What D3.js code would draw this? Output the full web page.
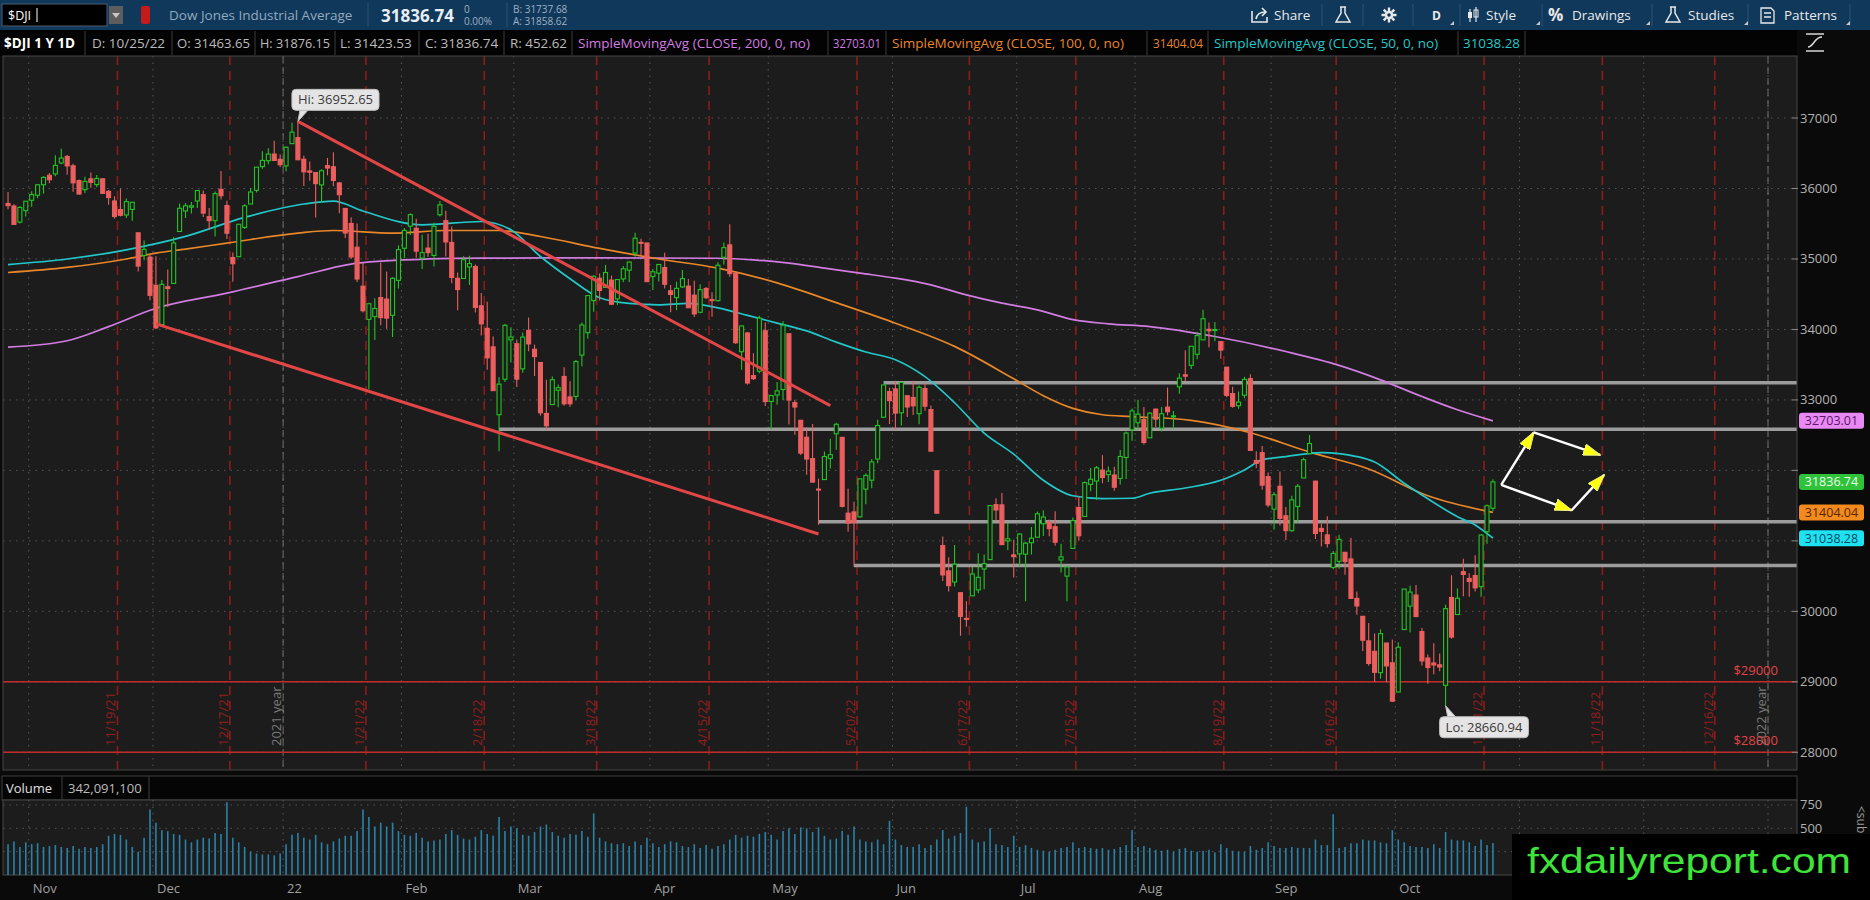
<!DOCTYPE html>
<html>
<head>
<meta charset="utf-8">
<script src="https://cdn.jsdelivr.net/npm/d3@7"></script>
<style>
  body { margin: 0; background: #0a0a0a; overflow: hidden; }
  svg { display: block; }
</style>
</head>
<body>
<svg id="chart" width="1870" height="900"></svg>
<script>
// ---- data -------------------------------------------------------------
const holidays = ['2021-11-25', '2021-12-24', '2022-01-17', '2022-02-21', '2022-04-15', '2022-05-30',
  '2022-06-20', '2022-07-04', '2022-09-05', '2022-11-24', '2022-12-26', '2023-01-02'];

// date, open, high, low, close
const ohlc = [
  ['2021-10-26', 35788, 35951, 35707, 35756.88], ['2021-10-27', 35752, 35775, 35490, 35490.69],
  ['2021-10-28', 35523, 35749, 35502, 35730.48], ['2021-10-29', 35686, 35820, 35603, 35819.56],
  ['2021-11-01', 35833, 35960, 35740, 35913.84], ['2021-11-02', 35904, 36060, 35860, 36052.63],
  ['2021-11-03', 36053, 36174, 35926, 36157.58], ['2021-11-04', 36187, 36219, 36074, 36124.23],
  ['2021-11-05', 36207, 36470, 36174, 36327.95], ['2021-11-08', 36362, 36565, 36343, 36432.22],
  ['2021-11-09', 36455, 36474, 36194, 36319.98], ['2021-11-10', 36322, 36351, 35955, 36079.94],
  ['2021-11-11', 36112, 36126, 35915, 35921.23], ['2021-11-12', 35983, 36166, 35936, 36100.31],
  ['2021-11-15', 36137, 36226, 36012, 36087.45], ['2021-11-16', 36055, 36190, 36016, 36142.22],
  ['2021-11-17', 36138, 36141, 35927, 35931.05], ['2021-11-18', 35959, 35979, 35768, 35870.95],
  ['2021-11-19', 35823, 35890, 35573, 35601.98], ['2021-11-22', 35701, 36000, 35604, 35619.25],
  ['2021-11-23', 35624, 35859, 35582, 35813.80], ['2021-11-24', 35703, 35811, 35541, 35804.38],
  ['2021-11-26', 35371, 35371, 34822, 34899.34], ['2021-11-29', 35050, 35262, 34982, 35135.94],
  ['2021-11-30', 35027, 35073, 34413, 34483.72], ['2021-12-01', 34626, 35040, 34006, 34022.04],
  ['2021-12-02', 34070, 34702, 34062, 34639.79], ['2021-12-03', 34606, 34849, 34317, 34580.08],
  ['2021-12-06', 34653, 35309, 34653, 35227.03], ['2021-12-07', 35390, 35788, 35390, 35719.43],
  ['2021-12-08', 35681, 35793, 35581, 35754.09], ['2021-12-09', 35735, 35810, 35645, 35754.69],
  ['2021-12-10', 35823, 35975, 35725, 35970.99], ['2021-12-13', 35912, 35970, 35595, 35650.95],
  ['2021-12-14', 35601, 35725, 35416, 35544.18], ['2021-12-15', 35544, 35957, 35319, 35927.43],
  ['2021-12-16', 35988, 36248, 35843, 35897.64], ['2021-12-17', 35759, 35827, 35282, 35365.44],
  ['2021-12-20', 35020, 35093, 34678, 34932.16], ['2021-12-21', 35032, 35495, 35032, 35492.70],
  ['2021-12-22', 35448, 35776, 35426, 35753.89], ['2021-12-23', 35780, 36007, 35780, 35950.56],
  ['2021-12-27', 35975, 36303, 35943, 36302.38], ['2021-12-28', 36311, 36528, 36280, 36398.21],
  ['2021-12-29', 36394, 36571, 36343, 36488.63], ['2021-12-30', 36489, 36679, 36391, 36398.08],
  ['2021-12-31', 36414, 36483, 36306, 36338.30],
  ['2022-01-03', 36321, 36595, 36246, 36585.06], ['2022-01-04', 36636, 36934, 36636, 36799.65],
  ['2022-01-05', 36722, 36952.65, 36407, 36407.11], ['2022-01-06', 36415, 36464, 36037, 36236.47],
  ['2022-01-07', 36249, 36382, 36111, 36231.66], ['2022-01-10', 36227, 36227, 35588, 36068.87],
  ['2022-01-11', 36051, 36272, 35806, 36252.02], ['2022-01-12', 36324, 36434, 36187, 36290.32],
  ['2022-01-13', 36308, 36513, 36033, 36113.62], ['2022-01-14', 36079, 36093, 35650, 35911.81],
  ['2022-01-18', 35717, 35717, 35299, 35368.47], ['2022-01-19', 35504, 35592, 35001, 35028.65],
  ['2022-01-20', 35167, 35503, 34674, 34715.39], ['2022-01-21', 34614, 34942, 34240, 34265.37],
  ['2022-01-24', 34143, 34380, 33150, 34364.50], ['2022-01-25', 34181, 34444, 33851, 34297.73],
  ['2022-01-26', 34452, 34950, 34059, 34168.09], ['2022-01-27', 34431, 34823, 34010, 34160.78],
  ['2022-01-28', 34201, 34741, 33892, 34725.47], ['2022-01-31', 34697, 35193, 34581, 35131.86],
  ['2022-02-01', 35152, 35439, 35012, 35405.24], ['2022-02-02', 35465, 35647, 35339, 35629.33],
  ['2022-02-03', 35436, 35570, 35016, 35111.16], ['2022-02-04', 35013, 35342, 34859, 35089.74],
  ['2022-02-07', 35155, 35358, 35030, 35091.13], ['2022-02-08', 35050, 35515, 34893, 35462.78],
  ['2022-02-09', 35627, 35824, 35604, 35768.06], ['2022-02-10', 35543, 35683, 35034, 35241.59],
  ['2022-02-11', 35235, 35461, 34654, 34738.06], ['2022-02-14', 34726, 34807, 34273, 34566.17],
  ['2022-02-15', 34724, 35039, 34724, 34988.84], ['2022-02-16', 34887, 35045, 34630, 34934.27],
  ['2022-02-17', 34892, 34921, 34242, 34312.03], ['2022-02-18', 34336, 34517, 33915, 34079.18],
  ['2022-02-22', 34016, 34394, 33427, 33596.61], ['2022-02-23', 33753, 33899, 33128, 33131.76],
  ['2022-02-24', 32790, 33321, 32272.64, 33223.83], ['2022-02-25', 33293, 34076, 33255, 34058.75],
  ['2022-02-28', 33852, 34031, 33531, 33892.60],
  ['2022-03-01', 33797, 33857, 33183, 33294.95], ['2022-03-02', 33441, 33958, 33386, 33891.35],
  ['2022-03-03', 33987, 34171, 33689, 33794.66], ['2022-03-04', 33719, 33784, 33339, 33614.80],
  ['2022-03-07', 33531, 33531, 32777, 32817.38], ['2022-03-08', 32808, 33287, 32578, 32632.64],
  ['2022-03-09', 32934, 33333, 32934, 33286.25], ['2022-03-10', 33137, 33218, 32896, 33174.07],
  ['2022-03-11', 33333, 33463, 32918, 32944.19], ['2022-03-14', 33043, 33264, 32902, 32945.24],
  ['2022-03-15', 33050, 33567, 32995, 33544.34], ['2022-03-16', 33636, 34099, 33478, 34063.10],
  ['2022-03-17', 33954, 34480, 33869, 34480.76], ['2022-03-18', 34410, 34768, 34250, 34754.93],
  ['2022-03-21', 34727, 34793, 34409, 34552.99], ['2022-03-22', 34596, 34916, 34596, 34807.46],
  ['2022-03-23', 34700, 34764, 34344, 34358.50], ['2022-03-24', 34434, 34713, 34346, 34707.94],
  ['2022-03-25', 34717, 34899, 34669, 34861.24], ['2022-03-28', 34841, 34964, 34674, 34955.89],
  ['2022-03-29', 35084, 35372, 35033, 35294.19], ['2022-03-30', 35236, 35286, 35056, 35228.81],
  ['2022-03-31', 35227, 35227, 34678, 34678.35],
  ['2022-04-01', 34751, 34858, 34559, 34818.27], ['2022-04-04', 34799, 34925, 34681, 34921.88],
  ['2022-04-05', 34879, 35089, 34580, 34641.18], ['2022-04-06', 34549, 34630, 34245, 34496.51],
  ['2022-04-07', 34452, 34678, 34273, 34583.57], ['2022-04-08', 34604, 34844, 34589, 34721.12],
  ['2022-04-11', 34615, 34715, 34306, 34308.08], ['2022-04-12', 34487, 34692, 34175, 34220.36],
  ['2022-04-13', 34244, 34640, 34230, 34564.59], ['2022-04-14', 34581, 34603, 34433, 34451.23],
  ['2022-04-18', 34423, 34528, 34179, 34411.69], ['2022-04-19', 34409, 34952, 34397, 34911.20],
  ['2022-04-20', 35025, 35232, 34920, 35160.79], ['2022-04-21', 35200, 35492, 34747, 34792.76],
  ['2022-04-22', 34797, 34797, 33793, 33811.40], ['2022-04-25', 33684, 34054, 33427, 34049.46],
  ['2022-04-26', 33950, 33965, 33217, 33240.18], ['2022-04-27', 33345, 33664, 33282, 33301.93],
  ['2022-04-28', 33408, 34194, 33378, 34160.78], ['2022-04-29', 33981, 34098, 32914, 32977.21],
  ['2022-05-02', 32978, 33075, 32584, 33061.50], ['2022-05-03', 33069, 33256, 32930, 33128.79],
  ['2022-05-04', 33148, 34117, 32998, 34061.06], ['2022-05-05', 33939, 33940, 32652, 32997.97],
  ['2022-05-06', 32963, 33002, 32505, 32899.37], ['2022-05-09', 32711, 32711, 32220, 32245.70],
  ['2022-05-10', 32470, 32612, 31937, 32160.74], ['2022-05-11', 32167, 32660, 31825, 31834.11],
  ['2022-05-12', 31735, 31882, 31228, 31730.30], ['2022-05-13', 31870, 32269, 31870, 32196.66],
  ['2022-05-16', 32170, 32448, 32027, 32223.42], ['2022-05-17', 32519, 32675, 32294, 32654.59],
  ['2022-05-18', 32469, 32474, 31474, 31490.07], ['2022-05-19', 31393, 31739, 31128, 31253.13],
  ['2022-05-20', 31411, 31554, 30635.76, 31261.90], ['2022-05-23', 31341, 31881, 31331, 31880.24],
  ['2022-05-24', 31734, 31955, 31519, 31928.62], ['2022-05-25', 31861, 32161, 31746, 32120.28],
  ['2022-05-26', 32161, 32717, 32102, 32637.19], ['2022-05-27', 32754, 33213, 32754, 33212.96],
  ['2022-05-31', 33118, 33175, 32656, 32990.12],
  ['2022-06-01', 33156, 33272, 32581, 32813.23], ['2022-06-02', 32817, 33249, 32637, 33248.28],
  ['2022-06-03', 33060, 33060, 32757, 32899.70], ['2022-06-06', 33035, 33271, 32786, 32915.78],
  ['2022-06-07', 32804, 33203, 32654, 33180.14], ['2022-06-08', 33162, 33234, 32845, 32910.90],
  ['2022-06-09', 32863, 32920, 32272, 32272.79], ['2022-06-10', 31995, 32000, 31389, 31392.79],
  ['2022-06-13', 30934, 31061, 30432, 30516.74], ['2022-06-14', 30574, 30769, 30280, 30364.83],
  ['2022-06-15', 30416, 30940, 30351, 30668.53], ['2022-06-16', 30265, 30265, 29653, 29927.07],
  ['2022-06-17', 29900, 30145, 29780, 29888.78], ['2022-06-21', 30220, 30628, 30220, 30530.25],
  ['2022-06-22', 30304, 30823, 30258, 30483.13], ['2022-06-23', 30601, 30807, 30312, 30677.36],
  ['2022-06-24', 30734, 31500, 30734, 31500.68], ['2022-06-27', 31514, 31605, 31286, 31438.26],
  ['2022-06-28', 31511, 31679, 30941, 30946.99], ['2022-06-29', 30999, 31253, 30872, 31029.31],
  ['2022-06-30', 30801, 31016, 30480, 30775.43],
  ['2022-07-01', 30815, 31104, 30632, 31097.26], ['2022-07-05', 30812, 30983, 30143, 30967.82],
  ['2022-07-06', 30974, 31197, 30807, 31037.68], ['2022-07-07', 31052, 31418, 31052, 31384.55],
  ['2022-07-08', 31243, 31433, 31070, 31338.15], ['2022-07-11', 31268, 31305, 31067, 31173.84],
  ['2022-07-12', 31201, 31419, 30932, 30981.33], ['2022-07-13', 30729, 30961, 30550, 30772.79],
  ['2022-07-14', 30500, 30630, 30143, 30630.17], ['2022-07-15', 30893, 31331, 30893, 31288.26],
  ['2022-07-18', 31473, 31631, 31003, 31072.61], ['2022-07-19', 31346, 31844, 31346, 31827.05],
  ['2022-07-20', 31801, 32033, 31705, 31874.84], ['2022-07-21', 31849, 32063, 31582, 32036.90],
  ['2022-07-22', 32004, 32216, 31817, 31899.29], ['2022-07-25', 31939, 32055, 31836, 31990.04],
  ['2022-07-26', 31935, 32052, 31712, 31761.54], ['2022-07-27', 31886, 32290, 31799, 32197.59],
  ['2022-07-28', 32183, 32552, 31878, 32529.63], ['2022-07-29', 32576, 32877, 32420, 32845.13],
  ['2022-08-01', 32677, 33003, 32581, 32798.40], ['2022-08-02', 32722, 32900, 32369, 32396.17],
  ['2022-08-03', 32462, 32825, 32462, 32812.50], ['2022-08-04', 32870, 32875, 32617, 32726.82],
  ['2022-08-05', 32599, 32900, 32552, 32803.47], ['2022-08-08', 32898, 33176, 32780, 32832.54],
  ['2022-08-09', 32760, 32843, 32585, 32774.41], ['2022-08-10', 33186, 33378, 33089, 33309.51],
  ['2022-08-11', 33356, 33705, 33270, 33336.67], ['2022-08-12', 33491, 33764, 33440, 33761.05],
  ['2022-08-15', 33647, 33965, 33577, 33912.44], ['2022-08-16', 33852, 34281, 33852, 34152.01],
  ['2022-08-17', 34002, 34099, 33749, 33980.32], ['2022-08-18', 33998, 34106, 33834, 33999.04],
  ['2022-08-19', 33827, 33827, 33584, 33706.74], ['2022-08-22', 33465, 33465, 33037, 33063.61],
  ['2022-08-23', 33090, 33188, 32888, 32909.59], ['2022-08-24', 32918, 33119, 32875, 32969.23],
  ['2022-08-25', 33067, 33327, 33024, 33291.78], ['2022-08-26', 33302, 33365, 32278, 32283.40],
  ['2022-08-29', 32141, 32270, 32033, 32098.99], ['2022-08-30', 32252, 32345, 31724, 31790.87],
  ['2022-08-31', 31912, 31970, 31477, 31510.43],
  ['2022-09-01', 31450, 31694, 31161, 31656.42], ['2022-09-02', 31775, 31985, 31219, 31318.44],
  ['2022-09-06', 31356, 31482, 31014, 31145.30], ['2022-09-07', 31144, 31640, 31131, 31581.28],
  ['2022-09-08', 31488, 31807, 31258, 31774.52], ['2022-09-09', 31893, 32181, 31893, 32151.71],
  ['2022-09-12', 32238, 32504, 32238, 32381.34], ['2022-09-13', 31848, 31848, 31028, 31104.97],
  ['2022-09-14', 31177, 31243, 30920, 31135.09], ['2022-09-15', 31085, 31348, 30906, 30961.82],
  ['2022-09-16', 30623, 30855, 30597, 30822.42], ['2022-09-19', 30710, 31086, 30604, 31019.68],
  ['2022-09-20', 30838, 30838, 30518, 30706.23], ['2022-09-21', 30744, 31043, 30181, 30183.78],
  ['2022-09-22', 30184, 30283, 29951, 30076.68], ['2022-09-23', 29930, 29930, 29439, 29590.41],
  ['2022-09-26', 29581, 29836, 29227, 29260.81], ['2022-09-27', 29433, 29685, 28998, 29134.99],
  ['2022-09-28', 29130, 29745, 29044, 29683.74], ['2022-09-29', 29551, 29551, 28993, 29225.61],
  ['2022-09-30', 29270, 29599, 28715, 28725.51],
  ['2022-10-03', 28855, 29563, 28855, 29490.89], ['2022-10-04', 29742, 30317, 29742, 30316.32],
  ['2022-10-05', 30074, 30363, 29700, 30273.87], ['2022-10-06', 30231, 30375, 29915, 29926.94],
  ['2022-10-07', 29713, 29765, 29230, 29296.79], ['2022-10-10', 29338, 29389, 28973, 29202.88],
  ['2022-10-11', 29267, 29546, 29108, 29239.19], ['2022-10-12', 29241, 29403, 29151, 29210.85],
  ['2022-10-13', 28950, 30095, 28660.94, 30038.72], ['2022-10-14', 30197, 30512, 29613, 29634.83],
  ['2022-10-17', 29955, 30326, 29955, 30185.82], ['2022-10-18', 30563, 30747, 30213, 30523.80],
  ['2022-10-19', 30467, 30541, 30206, 30423.81], ['2022-10-20', 30509, 30795, 30282, 30333.59],
  ['2022-10-21', 30350, 31089, 30206, 31082.56], ['2022-10-24', 31131, 31517, 30961, 31499.62],
  ['2022-10-25', 31463.65, 31876.15, 31423.53, 31836.74]
];

// daily volume, millions (same order as ohlc)
const volumeM = [
  330, 360, 300, 350,
  330, 340, 300, 310, 320, 300, 290, 310, 280, 300, 290, 300, 330, 420, 440, 430, 380, 300, 250, 400, 700,
  560, 480, 470, 440, 430, 380, 350, 380, 400, 390, 450, 440, 780, 400, 350, 300, 250, 230, 220, 220, 210, 230,
  330, 430, 450, 400, 380, 430, 350, 330, 360, 390, 420, 420, 470, 700, 620, 520, 560, 520, 560, 470,
  430, 420, 450, 400, 360, 370, 380, 440, 480, 430, 390, 380, 410, 480, 440, 420, 620, 470, 520,
  500, 430, 420, 460, 520, 540, 460, 420, 400, 440, 430, 470, 410, 660, 400, 360, 340, 330, 340, 310, 360, 320, 400,
  340, 300, 330, 360, 350, 310, 300, 330, 290, 320, 280, 310, 330, 380, 430, 400, 420, 410, 440, 460,
  430, 380, 470, 500, 440, 510, 500, 460, 510, 420, 380, 390, 470, 430, 520, 380, 360, 350, 380, 330, 580,
  380, 320, 300, 300, 330, 290, 320, 380, 480, 390, 420, 450, 730, 380, 350, 360, 500, 330, 320, 300, 420,
  300, 320, 290, 270, 260, 250, 270, 290, 300, 350, 290, 300, 290, 280, 290, 270, 280, 300, 320, 480,
  300, 310, 290, 270, 260, 270, 250, 280, 290, 260, 250, 260, 270, 240, 330, 290, 260, 250, 250, 310, 270, 290, 350,
  310, 290, 290, 300, 290, 290, 290, 380, 320, 320, 650, 290, 300, 340, 340, 380, 370, 370, 350, 340, 480,
  380, 350, 310, 300, 300, 290, 330, 290, 460, 380, 370, 370, 350, 310, 380, 320, 342.0911
];

// moving averages
const sma200 = [
  ['2021-10-26', 33749], ['2021-11-09', 33840], ['2021-11-18', 34040], ['2021-12-01', 34300],
  ['2021-12-17', 34515], ['2022-01-05', 34750], ['2022-01-20', 34940], ['2022-02-07', 35000],
  ['2022-02-18', 35012], ['2022-03-21', 35015], ['2022-04-19', 35010], ['2022-04-27', 34988],
  ['2022-05-05', 34941], ['2022-05-13', 34870], ['2022-05-23', 34799], ['2022-06-01', 34728],
  ['2022-06-09', 34633], ['2022-06-17', 34491], ['2022-06-28', 34373], ['2022-07-07', 34278],
  ['2022-07-15', 34140], ['2022-07-25', 34080], ['2022-08-03', 34041], ['2022-08-18', 33900],
  ['2022-09-06', 33687], ['2022-09-19', 33490], ['2022-09-28', 33285], ['2022-10-07', 33048],
  ['2022-10-17', 32860], ['2022-10-25', 32703.01]
];
const sma100 = [
  ['2021-10-26', 34808], ['2021-11-09', 34880], ['2021-11-23', 35000], ['2021-12-01', 35083],
  ['2021-12-08', 35140], ['2021-12-17', 35225], ['2022-01-05', 35367], ['2022-01-13', 35404],
  ['2022-01-28', 35367], ['2022-02-10', 35404], ['2022-02-24', 35404], ['2022-03-07', 35319],
  ['2022-03-21', 35150], ['2022-04-04', 35000], ['2022-04-19', 34870], ['2022-05-03', 34660],
  ['2022-05-17', 34380], ['2022-06-01', 34089], ['2022-06-15', 33760], ['2022-06-30', 33300],
  ['2022-07-08', 33060], ['2022-07-15', 32880], ['2022-07-22', 32790], ['2022-07-29', 32764],
  ['2022-08-12', 32710], ['2022-08-26', 32535], ['2022-09-12', 32260], ['2022-09-26', 32020],
  ['2022-10-10', 31640], ['2022-10-25', 31404.04]
];
const sma50 = [
  ['2021-10-26', 34920], ['2021-11-09', 35000], ['2021-11-23', 35130], ['2021-12-08', 35320],
  ['2021-12-22', 35590], ['2022-01-06', 35780], ['2022-01-13', 35820], ['2022-01-21', 35680],
  ['2022-02-04', 35485], ['2022-02-18', 35532], ['2022-02-28', 35414], ['2022-03-07', 35035],
  ['2022-03-14', 34720], ['2022-03-21', 34450], ['2022-03-28', 34370], ['2022-04-04', 34350],
  ['2022-04-11', 34370], ['2022-04-19', 34306], ['2022-04-26', 34200], ['2022-05-03', 34090],
  ['2022-05-10', 33980], ['2022-05-17', 33820], ['2022-05-24', 33680], ['2022-06-01', 33570],
  ['2022-06-08', 33330], ['2022-06-15', 32960], ['2022-06-23', 32530], ['2022-06-30', 32230],
  ['2022-07-08', 31860], ['2022-07-15', 31640], ['2022-07-22', 31600], ['2022-07-29', 31605],
  ['2022-08-03', 31676], ['2022-08-11', 31750], ['2022-08-19', 31860], ['2022-08-25', 32007],
  ['2022-08-30', 32149], ['2022-09-06', 32196], ['2022-09-14', 32253], ['2022-09-22', 32196],
  ['2022-09-27', 32120], ['2022-10-04', 31818], ['2022-10-07', 31652], ['2022-10-17', 31344],
  ['2022-10-20', 31226], ['2022-10-25', 31038.28]
];

// drawn annotations (date, price)
const supportLines = [['2022-05-27', 33245], ['2022-02-24', 32585], ['2022-05-12', 31270], ['2022-05-20', 30650]];
const trendLines = [
  [['2022-01-05', 36952.65], ['2022-05-16', 32920]],
  [['2021-12-01', 34080], ['2022-05-12', 31098]]
];
const alertLevels = [29000, 28000];
// projected path, in bars after the last candle
const projection = [
  [[1.4, 31794], [6.9, 32539]], [[6.9, 32539], [18.1, 32219]],
  [[1.4, 31794], [13.3, 31434]], [[13.3, 31434], [18.8, 31936]]
];
const expiries = ['2021-11-19', '2021-12-17', '2022-01-21', '2022-02-18', '2022-03-18', '2022-04-15',
  '2022-05-20', '2022-06-17', '2022-07-15', '2022-08-19', '2022-09-16', '2022-10-21', '2022-11-18', '2022-12-16'];
const yearStarts = [['2022-01-03', '2021 year'], ['2023-01-03', '2022 year']];
const priceTicks = [28000, 29000, 30000, 31000, 32000, 33000, 34000, 35000, 36000, 37000];
const volumeTicks = [250, 500, 750];

// ---- layout ----------------------------------------------------------
const FONT = "'Open Sans', 'Noto Sans', sans-serif";
const plot = { left: 3, right: 1797, top: 56, bottom: 770 };
const vol = { top: 800, bottom: 875 };
const UP = '#24c424', DOWN = '#ec5f5f', PANEL = '#1c1c1c';
const C200 = '#d07ce0', C100 = '#e8862a', C50 = '#22c7c9';

const fmt = d3.utcFormat('%Y-%m-%d');
const calendar = d3.utcDay.range(new Date(Date.UTC(2021, 9, 26)), new Date(Date.UTC(2023, 0, 11)))
  .filter((d) => d.getUTCDay() % 6 !== 0 && !holidays.includes(fmt(d)));
const dayIndex = new Map(calendar.map((d, i) => [fmt(d), i]));
const bisect = d3.bisector((d) => d).left;
function pos(ds) {
  if (dayIndex.has(ds)) return dayIndex.get(ds);
  return bisect(calendar, new Date(`${ds}T00:00:00Z`)) - 1;
}

const bars = ohlc.map(([date, o, h, l, c], k) => ({ date, o, h, l, c, v: volumeM[k], i: pos(date) }));
const last = bars[bars.length - 1];

const x = d3.scaleLinear().domain([-0.85, 302.4]).range([plot.left, plot.right]);
const y = d3.scaleLinear().domain([27749, 37880]).range([plot.bottom, plot.top]);
const vy = d3.scaleLinear().domain([0, 803]).range([vol.bottom, vol.top]);

const svg = d3.select('#chart').style('font-family', FONT);
const defs = svg.append('defs');
defs.append('clipPath').attr('id', 'clipPrice').append('rect')
  .attr('x', plot.left).attr('y', plot.top)
  .attr('width', plot.right - plot.left).attr('height', plot.bottom - plot.top);
defs.append('marker').attr('id', 'yhead').attr('viewBox', '0 0 18 12')
  .attr('refX', 17).attr('refY', 6).attr('markerWidth', 18).attr('markerHeight', 12)
  .attr('markerUnits', 'userSpaceOnUse').attr('orient', 'auto')
  .append('path').attr('d', 'M0,0L18,6L0,12Z').attr('fill', '#ffff10').attr('stroke', '#f0f0a0').attr('stroke-width', 0.8);

svg.append('rect').attr('width', 1870).attr('height', 900).attr('fill', '#0a0a0a');

// fit a text into a width by squeezing only when it runs long
function fit(sel, maxW) {
  const w = sel.node().getComputedTextLength();
  if (w > maxW) sel.attr('textLength', maxW).attr('lengthAdjust', 'spacingAndGlyphs');
  return sel;
}

// ---- toolbar ---------------------------------------------------------
const bar = svg.append('g');
bar.append('rect').attr('width', 1870).attr('height', 30).attr('fill', '#10385a');
bar.append('rect').attr('x', 2).attr('y', 4).attr('width', 105).attr('height', 22)
  .attr('fill', '#000').attr('stroke', '#4a5d70');
bar.append('text').attr('x', 8).attr('y', 20).attr('fill', '#fff').attr('font-size', 12.5).text('$DJI');
bar.append('line').attr('x1', 37).attr('x2', 37).attr('y1', 8).attr('y2', 22).attr('stroke', '#fff');
bar.append('rect').attr('x', 109).attr('y', 6).attr('width', 14).attr('height', 18).attr('fill', '#5d5d5d');
bar.append('path').attr('d', 'M112,13L120,13L116,18Z').attr('fill', '#c8c8c8');
bar.append('rect').attr('x', 141).attr('y', 6).attr('width', 9).attr('height', 18).attr('rx', 2).attr('fill', '#c41a1a');
fit(bar.append('text').attr('x', 169).attr('y', 20).attr('fill', '#93a9bf').attr('font-size', 13.5)
  .text('Dow Jones Industrial Average'), 190);
bar.append('line').attr('x1', 368).attr('x2', 368).attr('y1', 3).attr('y2', 27).attr('stroke', '#2a5375');
fit(bar.append('text').attr('x', 381).attr('y', 22).attr('fill', '#e8eef4').attr('font-size', 17)
  .attr('font-weight', 700).text(last.c.toFixed(2)), 75);
bar.append('text').attr('x', 464).attr('y', 13).attr('fill', '#9fb0c2').attr('font-size', 10).text('0');
bar.append('text').attr('x', 464).attr('y', 25).attr('fill', '#9fb0c2').attr('font-size', 10).text('0.00%');
bar.append('line').attr('x1', 507).attr('x2', 507).attr('y1', 3).attr('y2', 27).attr('stroke', '#2a5375');
bar.append('text').attr('x', 513).attr('y', 13).attr('fill', '#9fb0c2').attr('font-size', 10).text('B: 31737.68');
bar.append('text').attr('x', 513).attr('y', 25).attr('fill', '#9fb0c2').attr('font-size', 10).text('A: 31858.62');

const tools = bar.append('g').attr('fill', '#e8e8e8').attr('font-size', 13.5);
[1322, 1363, 1413, 1460, 1542, 1652, 1748, 1850].forEach((sx) => {
  tools.append('line').attr('x1', sx).attr('x2', sx).attr('y1', 4).attr('y2', 26).attr('stroke', '#2a5375');
});
tools.append('path').attr('d', 'M1252,11v11h15v-5 M1256,19c1,-5 4,-7 9,-7 M1262,8l4,4l-4,4')
  .attr('fill', 'none').attr('stroke', '#e8e8e8').attr('stroke-width', 1.6);
tools.append('text').attr('x', 1274).attr('y', 20).text('Share');
const flask = (cx) => `M${cx - 3},7h6 M${cx - 2},7v6l-5,9h14l-5,-9v-6`;
tools.append('path').attr('d', flask(1343)).attr('fill', 'none').attr('stroke', '#e8e8e8').attr('stroke-width', 1.5);
const gearTeeth = d3.range(8).map((k) => {
  const a = (k * Math.PI) / 4;
  return `M${1389 + 4 * Math.cos(a)},${15 + 4 * Math.sin(a)}L${1389 + 7.5 * Math.cos(a)},${15 + 7.5 * Math.sin(a)}`;
}).join('');
tools.append('path').attr('d', gearTeeth).attr('stroke', '#e8e8e8').attr('stroke-width', 2.4);
tools.append('circle').attr('cx', 1389).attr('cy', 15).attr('r', 4.3).attr('fill', '#e8e8e8');
tools.append('circle').attr('cx', 1389).attr('cy', 15).attr('r', 1.8).attr('fill', '#10385a');
tools.append('text').attr('x', 1432).attr('y', 20).attr('font-weight', 700).attr('font-size', 12).text('D');
tools.append('path').attr('d', 'M1470,9v13 M1476,7v15').attr('stroke', '#e8e8e8').attr('stroke-width', 1.2);
tools.append('rect').attr('x', 1468).attr('y', 12).attr('width', 4).attr('height', 6).attr('fill', '#e8e8e8');
tools.append('rect').attr('x', 1474).attr('y', 10).attr('width', 4).attr('height', 7).attr('fill', 'none').attr('stroke', '#e8e8e8');
tools.append('text').attr('x', 1486).attr('y', 20).text('Style');
tools.append('text').attr('x', 1548).attr('y', 21).attr('font-size', 17).attr('font-weight', 700).text('%');
tools.append('text').attr('x', 1572).attr('y', 20).text('Drawings');
tools.append('path').attr('d', flask(1673)).attr('fill', 'none').attr('stroke', '#e8e8e8').attr('stroke-width', 1.5);
tools.append('text').attr('x', 1688).attr('y', 20).text('Studies');
tools.append('path').attr('d', 'M1761,8h10l3,3v12h-13z M1764,13h7 M1764,17h7')
  .attr('fill', 'none').attr('stroke', '#e8e8e8').attr('stroke-width', 1.3);
tools.append('text').attr('x', 1784).attr('y', 20).text('Patterns');
[1450, 1536, 1646, 1744, 1846].forEach((tx) => {
  tools.append('path').attr('d', `M${tx},25l4,0l0,-4z`).attr('fill', '#c8c8c8');
});

// ---- info row --------------------------------------------------------
const info = svg.append('g');
info.append('rect').attr('y', 30).attr('width', 1797).attr('height', 26).attr('fill', '#030303');
const fmtD = d3.utcFormat('%m/%d/%y');
const cells = [
  { t: '$DJI 1 Y 1D', x: 4, c: '#ffffff', b: true },
  { t: `D: ${fmtD(new Date(`${last.date}T00:00:00Z`))}`, x: 92, c: '#bcbcbc' },
  { t: `O: ${last.o.toFixed(2)}`, x: 177, c: '#bcbcbc' },
  { t: `H: ${last.h.toFixed(2)}`, x: 260, c: '#bcbcbc' },
  { t: `L: ${last.l.toFixed(2)}`, x: 340, c: '#bcbcbc' },
  { t: `C: ${last.c.toFixed(2)}`, x: 425, c: '#bcbcbc' },
  { t: `R: ${(last.h - last.l).toFixed(2)}`, x: 510, c: '#bcbcbc' },
  { t: 'SimpleMovingAvg (CLOSE, 200, 0, no)', x: 578, c: C200 },
  { t: sma200[sma200.length - 1][1].toFixed(2), x: 833, c: C200 },
  { t: 'SimpleMovingAvg (CLOSE, 100, 0, no)', x: 892, c: C100 },
  { t: sma100[sma100.length - 1][1].toFixed(2), x: 1153, c: C100 },
  { t: 'SimpleMovingAvg (CLOSE, 50, 0, no)', x: 1214, c: C50 },
  { t: sma50[sma50.length - 1][1].toFixed(2), x: 1463, c: C50 }
];
const seps = [85, 172, 255, 335, 419, 504, 572, 828, 886, 1147, 1208, 1458, 1525];
cells.forEach((d, k) => {
  const t = info.append('text').attr('x', d.x).attr('y', 48).attr('fill', d.c).attr('font-size', 13.5)
    .attr('font-weight', d.b ? 700 : 400).text(d.t);
  fit(t, seps[k] - d.x - 5);
});
seps.forEach((sx) => {
  info.append('line').attr('x1', sx).attr('x2', sx).attr('y1', 31).attr('y2', 55).attr('stroke', '#3c3c3c');
});
info.append('path').attr('d', 'M1806,34h18 M1806,51h18 M1808,47c6,0 6,-10 14,-10')
  .attr('fill', 'none').attr('stroke', '#d8d8d8').attr('stroke-width', 1.5);

// ---- price panel -----------------------------------------------------
svg.append('rect').attr('x', plot.left).attr('y', plot.top).attr('width', plot.right - plot.left)
  .attr('height', plot.bottom - plot.top).attr('fill', PANEL);
const pg = svg.append('g').attr('clip-path', 'url(#clipPrice)');

const monthStarts = calendar.filter((d, i) => (i === 0 ? false : d.getUTCMonth() !== calendar[i - 1].getUTCMonth()));

pg.selectAll('line.hgrid').data(priceTicks).join('line')
  .attr('x1', plot.left).attr('x2', plot.right).attr('y1', (d) => y(d)).attr('y2', (d) => y(d))
  .attr('stroke', '#565656').attr('stroke-dasharray', '1.5,5');
pg.selectAll('line.vgrid').data(monthStarts).join('line')
  .attr('x1', (d) => x(dayIndex.get(fmt(d)) - 0.5)).attr('x2', (d) => x(dayIndex.get(fmt(d)) - 0.5))
  .attr('y1', plot.top).attr('y2', plot.bottom)
  .attr('stroke', '#5a5a5a').attr('stroke-dasharray', '1.5,5');

pg.selectAll('line.exp').data(expiries).join('line')
  .attr('x1', (d) => x(pos(d) + 0.5)).attr('x2', (d) => x(pos(d) + 0.5))
  .attr('y1', plot.top).attr('y2', plot.bottom)
  .attr('stroke', '#8c1c1c').attr('stroke-width', 1.6).attr('stroke-dasharray', '9,6');
const fmtExp = d3.utcFormat('%-m/%-d/%y');
pg.selectAll('text.exp').data(expiries).join('text')
  .attr('transform', (d) => `translate(${x(pos(d) + 0.5) - 2},746) rotate(-90)`)
  .attr('fill', '#921f1f').attr('font-size', 13).text((d) => fmtExp(new Date(`${d}T00:00:00Z`)));

pg.selectAll('line.year').data(yearStarts).join('line')
  .attr('x1', (d) => x(pos(d[0]) - 0.5)).attr('x2', (d) => x(pos(d[0]) - 0.5))
  .attr('y1', plot.top).attr('y2', plot.bottom)
  .attr('stroke', '#6e6e6e').attr('stroke-dasharray', '7,4');
pg.selectAll('text.year').data(yearStarts).join('text')
  .attr('transform', (d) => `translate(${x(pos(d[0]) - 0.5) - 2},746) rotate(-90)`)
  .attr('fill', '#7a7a7a').attr('font-size', 13).text((d) => d[1]);

pg.selectAll('line.alert').data(alertLevels).join('line')
  .attr('x1', plot.left).attr('x2', plot.right).attr('y1', (d) => y(d)).attr('y2', (d) => y(d))
  .attr('stroke', '#c42c2c').attr('stroke-width', 1.5);
pg.selectAll('text.alert').data(alertLevels).join('text')
  .attr('x', 1778).attr('y', (d) => y(d) - 7).attr('text-anchor', 'end')
  .attr('fill', '#e04444').attr('font-size', 13).text((d) => `$${d}`);

pg.selectAll('line.support').data(supportLines).join('line')
  .attr('x1', (d) => x(pos(d[0]))).attr('x2', plot.right)
  .attr('y1', (d) => y(d[1])).attr('y2', (d) => y(d[1]))
  .attr('stroke', '#9c9c9c').attr('stroke-width', 3.5);

const smaLine = d3.line().x((d) => x(pos(d[0]))).y((d) => y(d[1])).curve(d3.curveMonotoneX);
[[sma200, C200], [sma100, C100], [sma50, C50]].forEach(([s, col]) => {
  pg.append('path').attr('d', smaLine(s)).attr('fill', 'none').attr('stroke', col).attr('stroke-width', 1.7);
});

// candles: hollow up, filled down
const bw = 4;
pg.selectAll('line.wick').data(bars).join('line')
  .attr('x1', (d) => x(d.i)).attr('x2', (d) => x(d.i))
  .attr('y1', (d) => y(d.h)).attr('y2', (d) => y(d.l))
  .attr('stroke', (d) => (d.c >= d.o ? UP : DOWN)).attr('stroke-width', 1.1);
pg.selectAll('rect.body').data(bars).join('rect')
  .attr('x', (d) => x(d.i) - bw / 2)
  .attr('y', (d) => y(Math.max(d.o, d.c)))
  .attr('width', bw)
  .attr('height', (d) => Math.max(1, Math.abs(y(d.o) - y(d.c))))
  .attr('fill', (d) => (d.c >= d.o ? PANEL : DOWN))
  .attr('stroke', (d) => (d.c >= d.o ? UP : DOWN)).attr('stroke-width', 1.1);

pg.selectAll('line.trend').data(trendLines).join('line')
  .attr('x1', (d) => x(pos(d[0][0]))).attr('y1', (d) => y(d[0][1]))
  .attr('x2', (d) => x(pos(d[1][0]))).attr('y2', (d) => y(d[1][1]))
  .attr('stroke', '#e24646').attr('stroke-width', 3);

pg.selectAll('line.proj').data(projection).join('line')
  .attr('x1', (d) => x(last.i + d[0][0])).attr('y1', (d) => y(d[0][1]))
  .attr('x2', (d) => x(last.i + d[1][0])).attr('y2', (d) => y(d[1][1]))
  .attr('stroke', '#ffffff').attr('stroke-width', 2.4).attr('marker-end', 'url(#yhead)');

// hi / lo callouts
const hiBar = bars.reduce((a, b) => (b.h > a.h ? b : a));
const loBar = bars.reduce((a, b) => (b.l < a.l ? b : a));
function callout(px, py, bx, by, label, tailUp) {
  const g = pg.append('g');
  const t = g.append('text').attr('x', bx + 6).attr('y', by + 15).attr('fill', '#3a3a3a')
    .attr('font-size', 13).text(label);
  const w = t.node().getComputedTextLength() + 12;
  const ty = tailUp ? by : by + 21;
  g.insert('path', 'text').attr('d', `M${bx + 8},${ty}L${px},${py}L${bx + 16},${ty}Z`)
    .attr('fill', '#e4e4e4').attr('stroke', '#bdbdbd');
  g.insert('rect', 'text').attr('x', bx).attr('y', by).attr('width', w).attr('height', 21)
    .attr('rx', 4).attr('fill', '#e4e4e4').attr('stroke', '#bdbdbd');
}
callout(x(hiBar.i), y(hiBar.h), x(hiBar.i) - 6, y(hiBar.h) - 32, `Hi: ${hiBar.h.toFixed(2)}`, false);
callout(x(loBar.i), y(loBar.l), x(loBar.i) - 6, y(loBar.l) + 11, `Lo: ${loBar.l.toFixed(2)}`, true);

// price panel frame + axis
svg.append('rect').attr('x', plot.left).attr('y', plot.top).attr('width', plot.right - plot.left)
  .attr('height', plot.bottom - plot.top).attr('fill', 'none').attr('stroke', '#474747');
const tags = [
  [sma200[sma200.length - 1][1], '#e98af4', '#5a1466'],
  [last.c, '#2fc23a', '#eaffea'],
  [sma100[sma100.length - 1][1], '#f28a1d', '#5a2600'],
  [sma50[sma50.length - 1][1], '#1fe2f0', '#0c4a66']
];
const ax = svg.append('g').attr('font-size', 13).attr('fill', '#b2b2b2');
priceTicks.forEach((t) => {
  ax.append('line').attr('x1', plot.right - 5).attr('x2', plot.right + 1).attr('y1', y(t)).attr('y2', y(t))
    .attr('stroke', '#8a8a8a');
  // a price tag sitting on a tick hides its label, as on the platform
  const covered = tags.some(([v]) => Math.abs(y(v) - y(t)) < 14);
  if (!covered) ax.append('text').attr('x', plot.right + 3).attr('y', y(t) + 4.5).text(t);
});
tags.forEach(([v, bg, fg]) => {
  ax.append('rect').attr('x', 1799).attr('y', y(v) - 8).attr('width', 65).attr('height', 16)
    .attr('rx', 3).attr('fill', bg);
  ax.append('text').attr('x', 1831.5).attr('y', y(v) + 4.5).attr('text-anchor', 'middle')
    .attr('fill', fg).attr('font-size', 12.5).text(v.toFixed(2));
});

// ---- volume panel ----------------------------------------------------
const vg = svg.append('g');
vg.append('rect').attr('x', 2).attr('y', 776).attr('width', 1795).attr('height', 24)
  .attr('fill', '#050505').attr('stroke', '#3e3e3e');
vg.append('text').attr('x', 6).attr('y', 793).attr('fill', '#e0e0e0').attr('font-size', 13).text('Volume');
vg.append('line').attr('x1', 62).attr('x2', 62).attr('y1', 776).attr('y2', 800).attr('stroke', '#3e3e3e');
vg.append('text').attr('x', 68).attr('y', 793).attr('fill', '#bcbcbc').attr('font-size', 13)
  .text(d3.format(',')(Math.round(last.v * 1e6)));
vg.append('line').attr('x1', 149).attr('x2', 149).attr('y1', 776).attr('y2', 800).attr('stroke', '#3e3e3e');
vg.append('rect').attr('x', plot.left).attr('y', vol.top).attr('width', plot.right - plot.left)
  .attr('height', vol.bottom - vol.top).attr('fill', PANEL).attr('stroke', '#474747');
vg.selectAll('line.vh').data(volumeTicks).join('line')
  .attr('x1', plot.left).attr('x2', plot.right).attr('y1', (d) => vy(d)).attr('y2', (d) => vy(d))
  .attr('stroke', '#565656').attr('stroke-dasharray', '1.5,5');
vg.selectAll('line.vv').data(monthStarts).join('line')
  .attr('x1', (d) => x(dayIndex.get(fmt(d)) - 0.5)).attr('x2', (d) => x(dayIndex.get(fmt(d)) - 0.5))
  .attr('y1', vol.top).attr('y2', vol.bottom)
  .attr('stroke', '#5a5a5a').attr('stroke-dasharray', '1.5,5');
vg.selectAll('line.vbar').data(bars).join('line')
  .attr('x1', (d) => x(d.i)).attr('x2', (d) => x(d.i))
  .attr('y1', vy(0)).attr('y2', (d) => vy(d.v))
  .attr('stroke', '#2a82a8').attr('stroke-width', 1.6);
[750, 500].forEach((t) => {
  vg.append('text').attr('x', plot.right + 3).attr('y', vy(t) + 4.5).attr('fill', '#b2b2b2')
    .attr('font-size', 13).text(t);
});
vg.append('text').attr('transform', 'translate(1857,806) rotate(90)').attr('fill', '#9a9a9a')
  .attr('font-size', 12).text('<sub');

// month labels
const fmtM = (d) => (d.getUTCMonth() === 0 ? d3.utcFormat('%y')(d) : d3.utcFormat('%b')(d));
svg.selectAll('text.month').data(monthStarts).join('text')
  .attr('x', (d) => x(dayIndex.get(fmt(d)) - 0.5) + 4).attr('y', 893)
  .attr('fill', '#a0a0a0').attr('font-size', 13).text(fmtM);

// ---- watermark -------------------------------------------------------
svg.append('rect').attr('x', 1512).attr('y', 834).attr('width', 358).attr('height', 66).attr('fill', '#000');
svg.append('text').attr('x', 1527).attr('y', 873).attr('fill', '#3ee43a')
  .attr('font-family', "'Liberation Sans', Arial, sans-serif").attr('font-size', 35)
  .attr('textLength', 324).attr('lengthAdjust', 'spacingAndGlyphs').text('fxdailyreport.com');
</script>
</body>
</html>
